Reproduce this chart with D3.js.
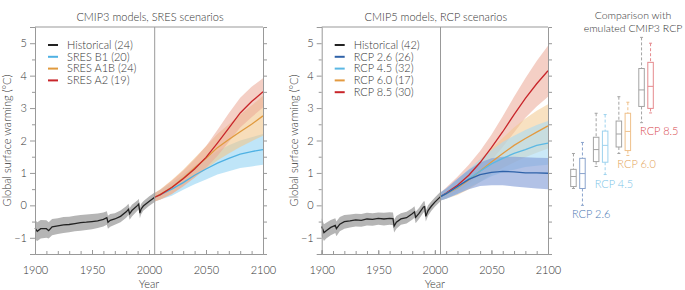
<!DOCTYPE html>
<html lang="en"><head>
<meta charset="utf-8">
<title>CMIP3 vs CMIP5 warming</title>
<script src="https://cdn.jsdelivr.net/npm/d3@7"></script>
<style>
  body { margin: 0; background: #fff; }
  svg text { font-family: Lato, "Open Sans", sans-serif; font-weight: 300; fill: #333; }
</style>
</head>
<body>
<svg id="chart" width="685" height="290"></svg>
<script>
// rows are [year, mean, low, high]
const cmip3Hist = [[1900,-0.70,-1.05,-0.45],[1902,-0.80,-1.10,-0.52],[1905,-0.72,-1.02,-0.45],[1910,-0.72,-1.00,-0.46],[1912,-0.78,-1.02,-0.52],[1915,-0.66,-0.92,-0.42],[1920,-0.63,-0.88,-0.40],[1925,-0.60,-0.85,-0.36],[1930,-0.59,-0.83,-0.35],[1935,-0.56,-0.80,-0.32],[1940,-0.53,-0.78,-0.30],[1945,-0.52,-0.76,-0.28],[1950,-0.50,-0.74,-0.27],[1955,-0.48,-0.70,-0.25],[1960,-0.43,-0.65,-0.22],[1963,-0.38,-0.60,-0.18],[1964,-0.52,-0.72,-0.32],[1966,-0.46,-0.66,-0.27],[1970,-0.42,-0.60,-0.24],[1975,-0.34,-0.52,-0.16],[1980,-0.20,-0.38,-0.03],[1982,-0.12,-0.30,0.05],[1983,-0.26,-0.44,-0.08],[1985,-0.16,-0.34,0.02],[1990,0.00,-0.16,0.16],[1991,0.04,-0.12,0.20],[1992,-0.24,-0.40,-0.08],[1993,-0.12,-0.28,0.04],[1995,-0.02,-0.17,0.13],[2000,0.12,-0.02,0.27],[2005,0.25,0.10,0.40]];
const sresB1 = [[2005,0.25,0.12,0.38],[2010,0.33,0.18,0.48],[2020,0.50,0.30,0.70],[2030,0.70,0.48,0.95],[2040,0.93,0.65,1.22],[2050,1.12,0.80,1.45],[2060,1.30,0.95,1.68],[2070,1.45,1.05,1.85],[2080,1.58,1.15,2.00],[2090,1.66,1.20,2.10],[2100,1.72,1.25,2.20]];
const sresA1B = [[2005,0.25,0.12,0.38],[2010,0.34,0.18,0.50],[2020,0.56,0.35,0.78],[2030,0.84,0.60,1.10],[2040,1.15,0.86,1.46],[2050,1.45,1.12,1.82],[2060,1.78,1.38,2.20],[2070,2.03,1.60,2.50],[2080,2.27,1.80,2.80],[2090,2.50,1.98,3.08],[2100,2.76,2.15,3.38]];
const sresA2 = [[2005,0.25,0.12,0.38],[2010,0.33,0.18,0.48],[2020,0.55,0.35,0.76],[2030,0.82,0.58,1.07],[2040,1.12,0.85,1.42],[2050,1.48,1.15,1.82],[2060,1.92,1.52,2.32],[2070,2.38,1.95,2.84],[2080,2.85,2.40,3.32],[2090,3.20,2.72,3.66],[2100,3.50,3.02,3.92]];

const cmip5Hist = [[1900,-0.65,-0.95,-0.40],[1902,-0.84,-1.10,-0.58],[1904,-0.78,-1.02,-0.54],[1908,-0.68,-0.92,-0.45],[1912,-0.62,-0.85,-0.40],[1913,-0.72,-0.95,-0.50],[1916,-0.58,-0.80,-0.36],[1920,-0.50,-0.72,-0.30],[1925,-0.48,-0.68,-0.28],[1930,-0.45,-0.65,-0.26],[1935,-0.46,-0.66,-0.27],[1940,-0.42,-0.62,-0.23],[1945,-0.43,-0.63,-0.24],[1950,-0.40,-0.60,-0.22],[1955,-0.42,-0.62,-0.23],[1960,-0.40,-0.60,-0.21],[1963,-0.41,-0.61,-0.22],[1964,-0.64,-0.84,-0.44],[1966,-0.52,-0.72,-0.33],[1970,-0.42,-0.60,-0.24],[1975,-0.38,-0.56,-0.20],[1980,-0.26,-0.44,-0.09],[1982,-0.20,-0.38,-0.03],[1983,-0.37,-0.55,-0.20],[1986,-0.25,-0.42,-0.08],[1990,-0.05,-0.22,0.12],[1991,-0.04,-0.20,0.13],[1992,-0.34,-0.50,-0.17],[1994,-0.16,-0.32,0.00],[1997,-0.02,-0.17,0.13],[2000,0.10,-0.04,0.24],[2005,0.27,0.13,0.42]];
const rcp26 = [[2005,0.27,0.15,0.40],[2010,0.36,0.20,0.52],[2020,0.58,0.35,0.82],[2030,0.80,0.50,1.10],[2040,0.95,0.60,1.32],[2050,1.02,0.62,1.45],[2060,1.05,0.62,1.50],[2070,1.03,0.58,1.50],[2080,1.00,0.55,1.48],[2090,1.00,0.52,1.47],[2100,0.99,0.50,1.46]];
const rcp45 = [[2005,0.27,0.15,0.40],[2010,0.36,0.20,0.52],[2020,0.56,0.35,0.80],[2030,0.82,0.55,1.12],[2040,1.05,0.72,1.42],[2050,1.28,0.90,1.70],[2060,1.45,1.02,1.95],[2070,1.60,1.10,2.15],[2080,1.72,1.18,2.32],[2090,1.85,1.22,2.48],[2100,1.92,1.25,2.60]];
const rcp60 = [[2005,0.27,0.15,0.40],[2010,0.35,0.20,0.50],[2020,0.54,0.32,0.78],[2030,0.78,0.50,1.08],[2040,1.06,0.72,1.42],[2050,1.34,0.95,1.75],[2060,1.60,1.15,2.08],[2070,1.85,1.32,2.40],[2080,2.06,1.48,2.68],[2090,2.26,1.62,2.92],[2100,2.45,1.75,3.12]];
const rcp85 = [[2005,0.27,0.15,0.40],[2010,0.38,0.22,0.55],[2020,0.62,0.40,0.88],[2030,0.93,0.65,1.25],[2040,1.32,0.98,1.68],[2050,1.78,1.38,2.18],[2060,2.27,1.80,2.75],[2070,2.80,2.25,3.35],[2080,3.30,2.70,3.92],[2090,3.75,3.05,4.45],[2100,4.15,3.35,4.92]];

// box plots, rows are [whisker low, q1, median, q3, whisker high]
const boxScenarios = ["RCP 2.6", "RCP 4.5", "RCP 6.0", "RCP 8.5"];
const boxEmulated = [[0.52,0.58,0.89,1.11,1.60],[1.20,1.35,1.72,2.10,2.84],[1.60,1.80,2.20,2.60,3.35],[2.55,3.05,3.56,4.22,5.18]];
const boxCmip5 = [[0.00,0.52,0.98,1.45,1.94],[0.95,1.33,1.85,2.29,2.80],[1.54,1.69,2.28,2.84,3.18],[2.85,2.99,3.67,4.41,5.00]];

const xTicks = [1900, 1950, 2000, 2050, 2100];
const yTicks = [-1, 0, 1, 2, 3, 4, 5];

const svg = d3.select("#chart");
const y = d3.scaleLinear().domain([-1.5, 5.5]).range([254, 27]);

const panels = [
  {x0: 35, x1: 263, title: "CMIP3 models, SRES scenarios",
   series: [
     {name: "Historical (24)", data: cmip3Hist, line: "#222", band: "#b5b5b5", op: 1},
     {name: "SRES B1 (20)", data: sresB1, line: "#4fb1e3", band: "#a9dcf5", op: 0.75},
     {name: "SRES A1B (24)", data: sresA1B, line: "#e09a3e", band: "#f2c68c", op: 0.6},
     {name: "SRES A2 (19)", data: sresA2, line: "#c8252a", band: "#eba796", op: 0.55}
   ],
   drawOrder: [0, 1, 2, 3]},
  {x0: 321.7, x1: 548, title: "CMIP5 models, RCP scenarios",
   series: [
     {name: "Historical (42)", data: cmip5Hist, line: "#222", band: "#b5b5b5", op: 1},
     {name: "RCP 2.6 (26)", data: rcp26, line: "#2f62a8", band: "#7f9ad6", op: 0.6},
     {name: "RCP 4.5 (32)", data: rcp45, line: "#5bb8e4", band: "#a8dbf3", op: 0.6},
     {name: "RCP 6.0 (17)", data: rcp60, line: "#e39a40", band: "#f3c88e", op: 0.55},
     {name: "RCP 8.5 (30)", data: rcp85, line: "#c8252a", band: "#eba796", op: 0.55}
   ],
   drawOrder: [0, 4, 3, 2, 1]}
];

panels.forEach(p => {
  const x = d3.scaleLinear().domain([1900, 2100]).range([p.x0, p.x1]);
  const g = svg.append("g");

  const area = d3.area().x(d => x(d[0])).y0(d => y(d[2])).y1(d => y(d[3]));
  const line = d3.line().x(d => x(d[0])).y(d => y(d[1]));

  p.drawOrder.forEach(i => {
    const s = p.series[i];
    g.append("path").attr("d", area(s.data))
      .attr("fill", s.band).attr("fill-opacity", s.op);
  });
  p.drawOrder.forEach(i => {
    const s = p.series[i];
    g.append("path").attr("d", line(s.data))
      .attr("fill", "none").attr("stroke", s.line).attr("stroke-width", 1.3);
  });

  // 2005 divider and frame
  g.append("line").attr("x1", x(2005)).attr("x2", x(2005))
    .attr("y1", y(5.5)).attr("y2", y(-1.5)).attr("stroke", "#999").attr("stroke-width", 1);
  g.append("line").attr("x1", x(1900)).attr("x2", x(2100))
    .attr("y1", y(5.5)).attr("y2", y(5.5)).attr("stroke", "#999");

  // left axis
  g.append("g").attr("transform", `translate(${p.x0},0)`)
    .call(d3.axisLeft(y).tickValues(yTicks).tickSize(5).tickPadding(3).tickFormat(d3.format("d")));
  g.append("g").attr("transform", `translate(${p.x0},0)`)
    .call(d3.axisLeft(y).tickValues(d3.range(-1.5, 5.01, 1)).tickSize(3).tickFormat(""))
    .call(a => a.select(".domain").remove());
  // right axis
  g.append("g").attr("transform", `translate(${p.x1},0)`)
    .call(d3.axisRight(y).tickValues(d3.range(-1, 5.01, 0.5)).tickSize(4).tickFormat(""));
  // bottom axis
  const xl = g.append("g").attr("transform", `translate(0,${y(-1.5)})`)
    .call(d3.axisBottom(x).tickValues(xTicks).tickSize(-4).tickPadding(10).tickFormat(d3.format("d")));
  g.append("g").attr("transform", `translate(0,${y(-1.5)})`)
    .call(d3.axisBottom(x).tickValues(d3.range(1900, 2101, 10)).tickSize(-3).tickFormat(""))
    .call(a => a.select(".domain").remove());

  g.selectAll(".domain, .tick line").attr("stroke", "#999");
  g.selectAll(".tick text").attr("font-size", 11).attr("fill", "#333");
  xl.selectAll(".tick text").attr("dy", "0.9em");

  g.append("text").attr("x", (p.x0 + p.x1) / 2 + 1).attr("y", 21).attr("text-anchor", "middle")
    .attr("font-size", 11).text(p.title);
  g.append("text").attr("x", (p.x0 + p.x1) / 2).attr("y", 288).attr("text-anchor", "middle")
    .attr("font-size", 11).text("Year");
  g.append("text").attr("transform", `translate(${p.x0 - 24},${y(2)}) rotate(-90)`)
    .attr("text-anchor", "middle").attr("font-size", 11).text("Global surface warming (°C)");

  // legend
  const lg = g.append("g").attr("transform", `translate(${p.x0 + 13},45)`);
  p.series.forEach((s, i) => {
    lg.append("line").attr("x1", 0).attr("x2", 10).attr("y1", i * 11.8).attr("y2", i * 11.8)
      .attr("stroke", s.line).attr("stroke-width", 2);
    lg.append("text").attr("x", 19).attr("y", i * 11.8).attr("dy", "0.35em")
      .attr("font-size", 11).text(s.name);
  });
});

// comparison box plots
const bx = d3.scaleBand().domain(boxScenarios).range([566.6, 657.4]);
const boxColors = ["#8aa3cc", "#9dd2ee", "#efc08a", "#e58a8e"];
const labelColors = ["#4a78b3", "#7cc4e7", "#e3a35a", "#d8484e"];
const labelDy = [13, 13, 13, 22];
const bw = 5.5;

function drawBox(row, cx, color) {
  const b = svg.append("g").attr("stroke", color).attr("fill", "none").attr("stroke-width", 1);
  b.append("line").attr("x1", cx).attr("x2", cx).attr("y1", y(row[4])).attr("y2", y(row[3]))
    .attr("stroke-dasharray", "3,2");
  b.append("line").attr("x1", cx).attr("x2", cx).attr("y1", y(row[1])).attr("y2", y(row[0]))
    .attr("stroke-dasharray", "3,2");
  [row[0], row[4]].forEach(v => b.append("line").attr("x1", cx - 1.5).attr("x2", cx + 1.5)
    .attr("y1", y(v)).attr("y2", y(v)));
  b.append("rect").attr("x", cx - bw / 2).attr("width", bw)
    .attr("y", y(row[3])).attr("height", y(row[1]) - y(row[3]));
  b.append("line").attr("x1", cx - bw / 2).attr("x2", cx + bw / 2)
    .attr("y1", y(row[2])).attr("y2", y(row[2]));
}

boxScenarios.forEach((s, i) => {
  const c = bx(s) + bx.bandwidth() / 2;
  drawBox(boxEmulated[i], c - 4.5, "#a3a3a3");
  drawBox(boxCmip5[i], c + 4.5, boxColors[i]);
  svg.append("text").attr("x", c - 6).attr("y", y(boxCmip5[i][0]) + labelDy[i])
    .attr("font-size", 11).style("fill", labelColors[i]).text(s);
});

svg.append("text").attr("x", 633).attr("y", 19).attr("text-anchor", "middle")
  .attr("font-size", 10.5).text("Comparison with");
svg.append("text").attr("x", 633).attr("y", 32).attr("text-anchor", "middle")
  .attr("font-size", 10.5).text("emulated CMIP3 RCP");
</script>
</body>
</html>
